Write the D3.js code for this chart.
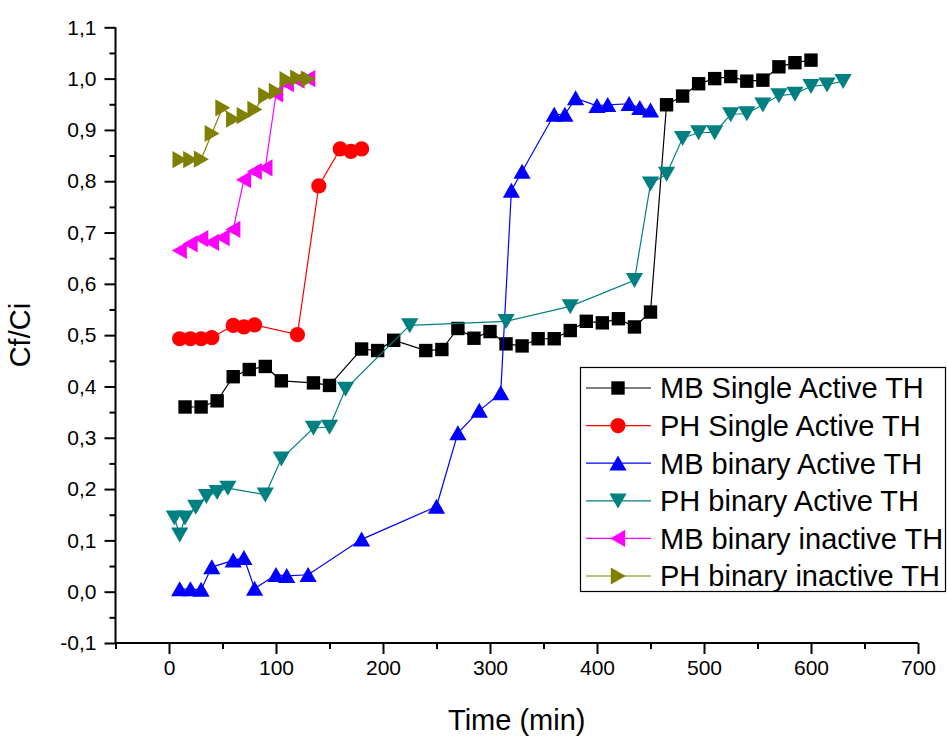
<!DOCTYPE html>
<html>
<head>
<meta charset="utf-8">
<script src="https://cdn.jsdelivr.net/npm/d3@7"></script>
<style>
html,body{margin:0;padding:0;background:#fff;}
svg{display:block;font-family:"Liberation Sans",Arial,sans-serif;}
</style>
</head>
<body>
<svg id="chart" width="947" height="738"></svg>
<script>
// ---- data ----
const mbSingleT = [15,30,45,60,75,90,105,135,150,180,195,210,240,255,270,285,300,315,330,345,360,375,390,405,420,435,450,465,480,495,510,525,540,555,570,585,600];
const mbSingleV = [0.36,0.36,0.372,0.419,0.433,0.439,0.411,0.407,0.402,0.473,0.470,0.490,0.470,0.472,0.513,0.494,0.507,0.483,0.479,0.493,0.493,0.509,0.527,0.524,0.532,0.516,0.545,0.949,0.966,0.990,1.0,1.004,0.995,0.997,1.023,1.031,1.036];
const phSingleT = [10,20,30,40,60,70,80,120,140,160,170,180];
const phSingleV = [0.493,0.493,0.493,0.495,0.519,0.516,0.520,0.501,0.791,0.863,0.858,0.863];
const mbBinT = [10,20,30,40,60,70,80,100,110,130,180,250,270,290,310,320,330,360,370,380,400,410,430,440,450];
const mbBinV = [0.005,0.005,0.004,0.048,0.061,0.066,0.006,0.033,0.031,0.033,0.102,0.166,0.309,0.353,0.387,0.782,0.819,0.930,0.930,0.962,0.947,0.949,0.951,0.943,0.938];
const phBinT = [5,10,15,25,35,45,55,90,105,135,150,165,225,315,375,435,450,465,480,495,510,525,540,555,570,585,600,615,630];
const phBinV = [0.144,0.111,0.144,0.165,0.186,0.194,0.202,0.189,0.259,0.319,0.321,0.395,0.519,0.527,0.556,0.607,0.795,0.814,0.884,0.895,0.895,0.930,0.932,0.949,0.967,0.970,0.985,0.988,0.995];
const mbInT = [10,20,30,40,50,60,70,80,90,100,110,120,130];
const mbInV = [0.665,0.678,0.688,0.681,0.690,0.706,0.803,0.819,0.826,0.970,0.990,0.997,1.0];
const phInT = [10,20,30,40,50,60,70,80,90,100,110,120,130];
const phInV = [0.842,0.842,0.843,0.893,0.943,0.921,0.928,0.940,0.967,0.975,0.998,1.001,0.999];

const seriesNames = ["MB Single Active TH","PH Single Active TH","MB binary Active TH","PH binary Active TH","MB binary inactive TH","PH binary inactive TH"];
const seriesColors = ["#000000","#ff0000","#0000ff","#008080","#ff00ff","#808000"];
const seriesShapes = ["square","circle","up","down","left","right"];
const seriesT = [mbSingleT, phSingleT, mbBinT, phBinT, mbInT, phInT];
const seriesV = [mbSingleV, phSingleV, mbBinV, phBinV, mbInV, phInV];

const xMajor = [0,100,200,300,400,500,600,700];
const xMinor = [-50,50,150,250,350,450,550,650];
const yMajor = [-0.1,0,0.1,0.2,0.3,0.4,0.5,0.6,0.7,0.8,0.9,1.0,1.1];
const yMinor = [-0.05,0.05,0.15,0.25,0.35,0.45,0.55,0.65,0.75,0.85,0.95,1.05];
const xTitle = "Time (min)";
const yTitle = "Cf/Ci";

// ---- scales ----
const svg = d3.select("#chart");
const x = d3.scaleLinear().domain([-50,700]).range([115.5,918]);
const y = d3.scaleLinear().domain([-0.1,1.1]).range([643,27.3]);
const fmt = v => d3.format(".1f")(v).replace(".", ",").replace("−","-");

// ---- axes ----
const xAxis = svg.append("g").attr("transform",`translate(0,${y(-0.1)})`)
  .call(d3.axisBottom(x).tickValues(xMajor).tickSize(11).tickPadding(6).tickFormat(d3.format("d")));
const xAxisMinor = svg.append("g").attr("transform",`translate(0,${y(-0.1)})`)
  .call(d3.axisBottom(x).tickValues(xMinor).tickSize(6).tickFormat(""));
const yAxis = svg.append("g").attr("transform",`translate(${x(-50)},0)`)
  .call(d3.axisLeft(y).tickValues(yMajor).tickSize(11).tickPadding(8).tickFormat(fmt));
const yAxisMinor = svg.append("g").attr("transform",`translate(${x(-50)},0)`)
  .call(d3.axisLeft(y).tickValues(yMinor).tickSize(6).tickFormat(""));
[xAxis,xAxisMinor,yAxis,yAxisMinor].forEach(g=>{
  g.selectAll(".domain").attr("stroke","#000").attr("stroke-width",2);
  g.selectAll(".tick line").attr("stroke","#000").attr("stroke-width",2);
  g.selectAll("text").attr("fill","#000").style("font-size","21px").style("font-family",'"Liberation Sans",Arial,sans-serif');
});
xAxisMinor.select(".domain").remove();
yAxisMinor.select(".domain").remove();
xAxis.select(".domain").attr("d",`M${x(-50)},0H${x(700)}`);
yAxis.select(".domain").attr("d",`M0,${y(-0.1)}V${y(1.1)}`);

svg.append("text").attr("x",(x(-50)+x(700))/2).attr("y",730)
  .attr("text-anchor","middle").style("font-size","29px").text(xTitle);
svg.append("text").attr("transform",`translate(30,${(y(-0.1)+y(1.1))/2}) rotate(-90)`)
  .attr("text-anchor","middle").style("font-size","29px").text(yTitle);

// ---- markers ----
function markerPath(shape){
  switch(shape){
    case "square": return "M-6.7,-6.7H6.7V6.7H-6.7Z";
    case "circle": return d3.arc()({innerRadius:0,outerRadius:7.6,startAngle:0,endAngle:2*Math.PI});
    case "up": return "M0,-7.8L8.6,7.2L-8.6,7.2Z";
    case "down": return "M0,7.8L8.6,-7.2L-8.6,-7.2Z";
    case "left": return "M-7.8,0L7.2,-8.6L7.2,8.6Z";
    case "right": return "M7.8,0L-7.2,-8.6L-7.2,8.6Z";
  }
}

const line = d3.line().x(d=>x(d[0])).y(d=>y(d[1]));
seriesNames.forEach((name,i)=>{
  const pts = seriesT[i].map((t,j)=>[t, seriesV[i][j]]);
  const g = svg.append("g");
  g.append("path").datum(pts).attr("d",line).attr("fill","none")
    .attr("stroke",seriesColors[i]).attr("stroke-width",1.2);
  g.selectAll("path.m").data(pts).join("path").attr("class","m")
    .attr("d",markerPath(seriesShapes[i]))
    .attr("transform",d=>`translate(${x(d[0])},${y(d[1])})`)
    .attr("fill",seriesColors[i]);
});

// ---- legend ----
const lg = svg.append("g");
lg.append("rect").attr("x",580.5).attr("y",367.5).attr("width",365).attr("height",224)
  .attr("fill","#fff").attr("stroke","#000").attr("stroke-width",1.2);
seriesNames.forEach((name,i)=>{
  const cy = 388 + i*37.6;
  lg.append("line").attr("x1",586).attr("x2",651).attr("y1",cy).attr("y2",cy)
    .attr("stroke",seriesColors[i]).attr("stroke-width",1.2);
  lg.append("path").attr("d",markerPath(seriesShapes[i]))
    .attr("transform",`translate(618,${cy})`).attr("fill",seriesColors[i]);
  lg.append("text").attr("x",660).attr("y",cy).attr("dy","0.36em")
    .style("font-size","29px").attr("fill","#000").text(name);
});
</script>
</body>
</html>
